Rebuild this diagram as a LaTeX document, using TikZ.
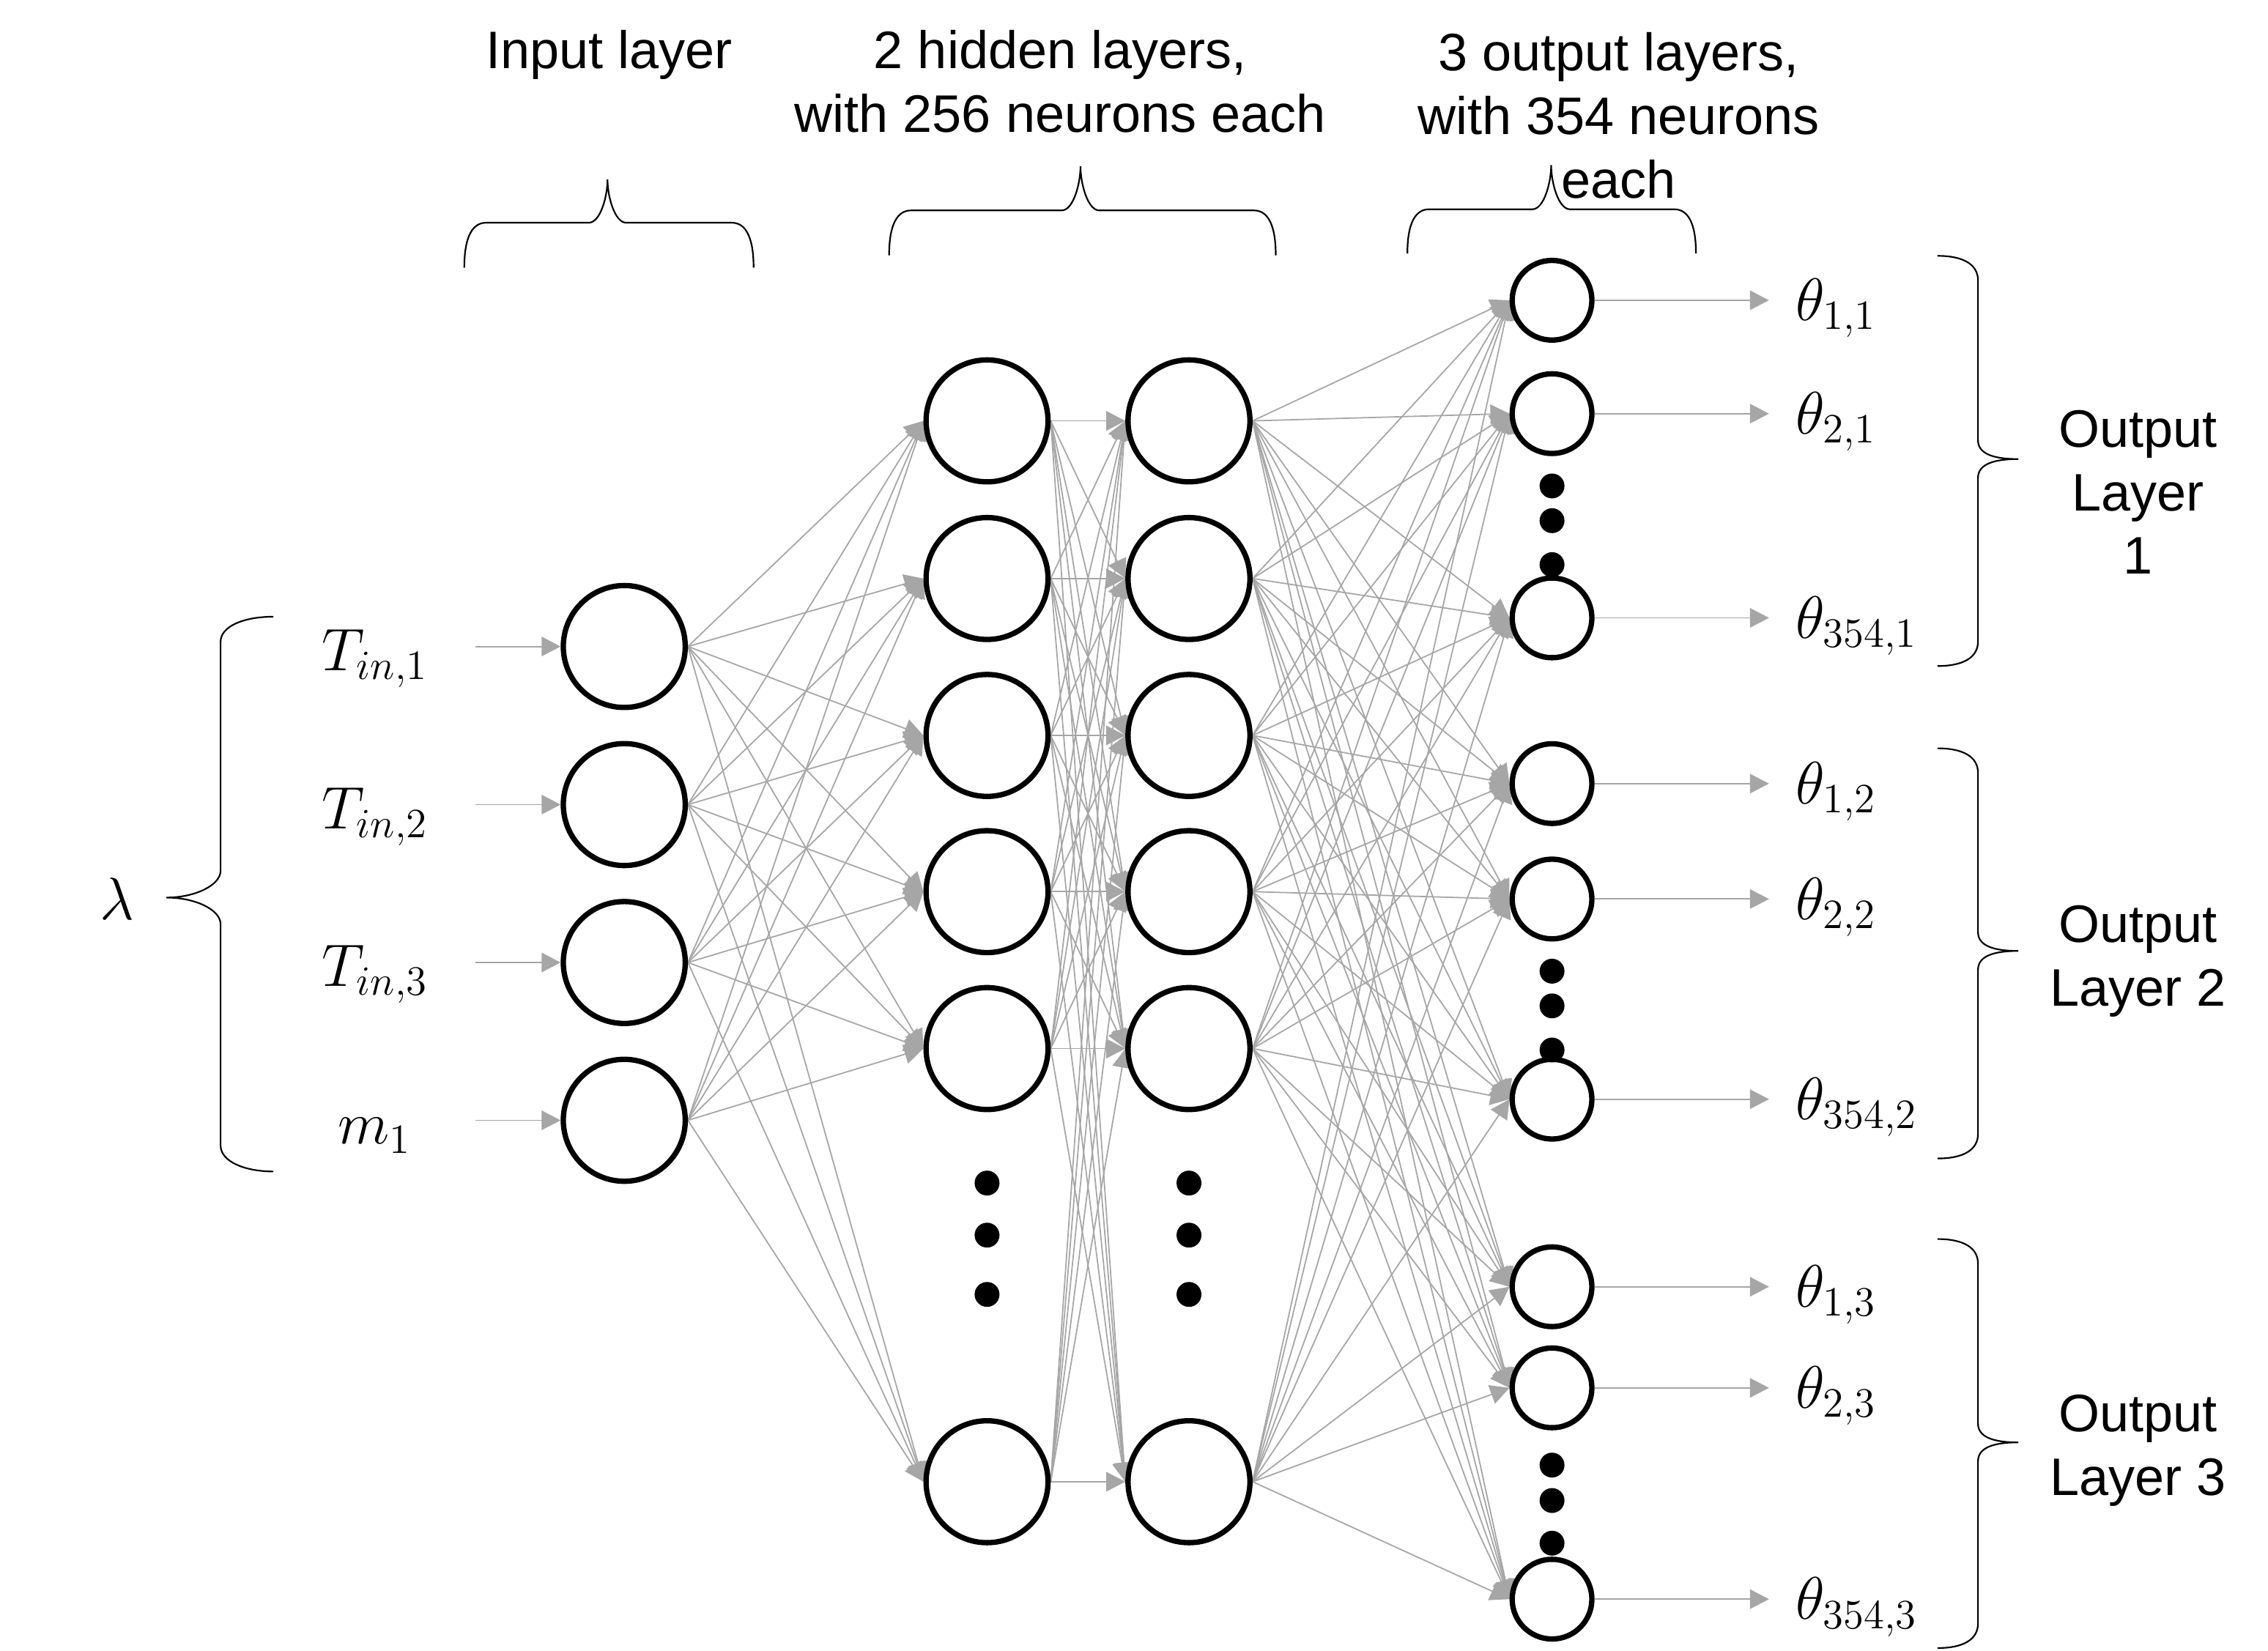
\documentclass[tikz,border=0pt]{standalone}
\usepackage{fontspec}
\newfontfamily\arialf{Liberation Sans}
\DeclareMathSizes{20.5}{20.5}{15}{11}
\usetikzlibrary{arrows.meta}
\pgfdeclarelayer{bg}
\pgfsetlayers{bg,main}
\definecolor{linegray}{HTML}{A6A6A6}
\newcommand{\sidebrace}[3]{\draw[brc] (1339.5,#1) .. controls +(18,0) and +(0,-11) .. (1367.5,#1+17) -- (1367.5,#2-13) .. controls +(0,9) and +(-18,0) .. (1395.3,#2) .. controls +(-18,0) and +(0,-9) .. (1367.5,#2+13) -- (1367.5,#3-17) .. controls +(0,11) and +(18,0) .. (1339.5,#3);}
\newcommand{\topbrace}[6]{\draw[brc] (#1,#4) .. controls +(0,-22) and +(-9,0) .. (#1+15,#5) -- (#2-13,#5) .. controls +(8,0) and +(0,12) .. (#2,#6) .. controls +(0,12) and +(-8,0) .. (#2+13,#5) -- (#3-15,#5) .. controls +(9,0) and +(0,-22) .. (#3,#4);}
\begin{document}
\begin{tikzpicture}[x=0.5pt,y=-0.5pt,
  neuron/.style={circle, draw=black, fill=white, line width=1.85pt, minimum size=42.15pt, inner sep=0pt},
  outn/.style={circle, draw=black, fill=white, line width=1.85pt, minimum size=27.55pt, inner sep=0pt},
  dotn/.style={circle, fill=black, minimum size=8.6pt, inner sep=0pt},
  conn/.style={draw=linegray, line width=0.45pt, -{Triangle[length=6.6pt,width=6.75pt]}},
  brc/.style={draw=black, line width=0.55pt},
  lbl/.style={font=\arialf\fontsize{18.25}{22}\selectfont, align=center, anchor=base, inner sep=0pt},
  mlbl/.style={font=\fontsize{20.5}{24}\selectfont, inner sep=0pt}]
\useasboundingbox (0,0) rectangle (1568,1141.5);

% input layer
\foreach \n/\y in {1/447,2/556.3,3/665.5,4/774.6}{
  \node[neuron] (i\n) at (431.6,\y) {};
  \coordinate (a\n) at (328.8,\y);
}
% hidden layers
\foreach \n/\y in {1/291,2/400,3/508.5,4/616.5,5/725,6/1024.5}{
  \node[neuron] (h\n) at (682.4,\y) {};
  \node[neuron] (g\n) at (822,\y) {};
}
\foreach \n/\y in {1/818,2/854,3/895}{
  \node[dotn] (hd\n) at (682.4,\y) {};
  \node[dotn] (gd\n) at (822,\y) {};
}
% output layers
\foreach \n/\y in {1/207.6,2/286,3/427.2,4/541.8,5/621.6,6/760,7/889.7,8/959.6,9/1105.7}{
  \node[outn] (o\n) at (1073,\y) {};
  \coordinate (e\n) at (1223,\y);
}
\foreach \n/\y in {1/336,2/360,3/390.4,4/671.5,5/695.5,6/726,7/1013,8/1037.5,9/1067}{
  \node[dotn] (od\n) at (1073,\y) {};
}

% input labels
\node[mlbl, anchor=base] (x1) at (259.4,463.5) {$T_{in,1}$};
\node[mlbl, anchor=base] (x2) at (259.4,572.8) {$T_{in,2}$};
\node[mlbl, anchor=base] (x3) at (259.4,682) {$T_{in,3}$};
\node[mlbl, anchor=base] (x4) at (259,791) {$m_1$};
\node[mlbl, anchor=base] (lam) at (81,636) {$\lambda$};

% output labels
\node[mlbl, anchor=base west] (t1) at (1241,221.6) {$\theta_{1,1}$};
\node[mlbl, anchor=base west] (t2) at (1241,300) {$\theta_{2,1}$};
\node[mlbl, anchor=base west] (t3) at (1241,441.2) {$\theta_{354,1}$};
\node[mlbl, anchor=base west] (t4) at (1241,555.8) {$\theta_{1,2}$};
\node[mlbl, anchor=base west] (t5) at (1241,635.6) {$\theta_{2,2}$};
\node[mlbl, anchor=base west] (t6) at (1241,774) {$\theta_{354,2}$};
\node[mlbl, anchor=base west] (t7) at (1241,903.7) {$\theta_{1,3}$};
\node[mlbl, anchor=base west] (t8) at (1241,973.6) {$\theta_{2,3}$};
\node[mlbl, anchor=base west] (t9) at (1241,1119.7) {$\theta_{354,3}$};

% titles (anchor = baseline of the last line)
\node[lbl] (tin) at (421,47.6) {Input layer};
\node[lbl] (thid) at (733,91.4) {2 hidden layers,\\with 256 neurons each};
\node[lbl] (tout) at (1119,136.8) {3 output layers,\\with 354 neurons\\each};
\node[lbl] (ol1) at (1478,397) {Output\\Layer\\1};
\node[lbl] (ol2) at (1478,695.6) {Output\\Layer 2};
\node[lbl] (ol3) at (1478,1034) {Output\\Layer 3};

% braces
\topbrace{321}{420}{521}{185}{154}{124}
\topbrace{614.7}{747}{882}{176.5}{145.5}{115}
\topbrace{973}{1072.4}{1172.5}{175.3}{144.7}{114.2}
\sidebrace{176.9}{317.4}{460.5}
\sidebrace{517.4}{657.5}{801}
\sidebrace{856.7}{997.3}{1139.5}
\draw[brc] (189,426.4) .. controls +(-20,0) and +(0,-11) .. (152.5,443.8) -- (152.5,602) .. controls +(0,10) and +(20,0) .. (115,620.6) .. controls +(20,0) and +(0,-10) .. (152.5,639) -- (152.5,792) .. controls +(0,11) and +(-20,0) .. (189,810);

% connections
\begin{pgfonlayer}{bg}
\foreach \n in {1,...,4}{
  \draw[conn] (a\n) -- (i\n.west);
  \foreach \m in {1,...,6}{ \draw[conn] (i\n.east) -- (h\m.west); }
}
\foreach \n in {1,...,6}{
  \foreach \m in {1,...,6}{ \draw[conn] (h\n.east) -- (g\m.west); }
  \foreach \m in {1,...,9}{ \draw[conn] (g\n.east) -- (o\m.west); }
}
\foreach \n in {1,...,9}{ \draw[conn] (o\n.east) -- (e\n); }
\end{pgfonlayer}
\end{tikzpicture}
\end{document}
